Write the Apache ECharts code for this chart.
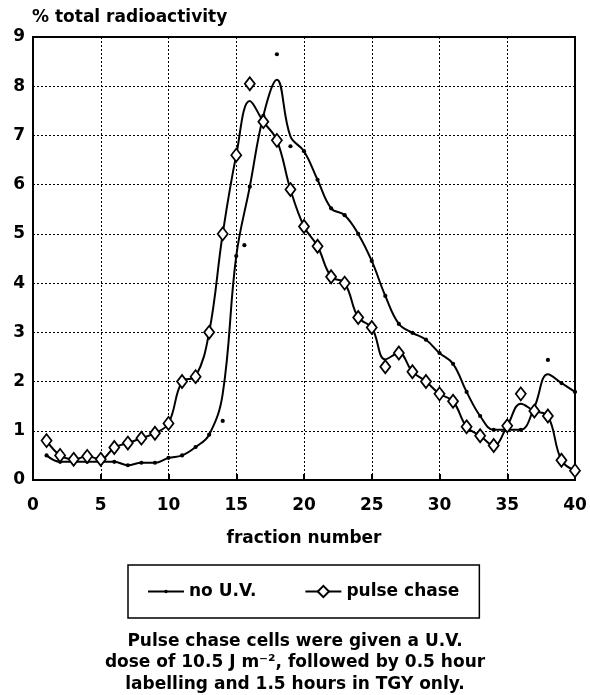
<!DOCTYPE html>
<html>
<head>
<meta charset="utf-8">
<script src="https://cdn.jsdelivr.net/npm/echarts@6/dist/echarts.min.js"></script>
<style>
  html, body { margin: 0; padding: 0; background: #fff; }
  #chart { width: 590px; height: 695px; }
</style>
</head>
<body>
<div id="chart"></div>
<script>
// fraction numbers on the x axis
const fractions = [1, 2, 3, 4, 5, 6, 7, 8, 9, 10, 11, 12, 13, 14, 15, 16, 17, 18, 19, 20,
  21, 22, 23, 24, 25, 26, 27, 28, 29, 30, 31, 32, 33, 34, 35, 36, 37, 38, 39, 40];

// fitted curve values (% total radioactivity)
const noUV = [0.5, 0.37, 0.37, 0.37, 0.37, 0.37, 0.3, 0.35, 0.35, 0.45, 0.5, 0.67, 0.92, 1.75, 4.55, 5.96, 7.4, 8.13, 6.98, 6.68,
  6.1, 5.52, 5.38, 5.0, 4.45, 3.74, 3.17, 2.99, 2.85, 2.58, 2.36, 1.79, 1.3, 1.02, 1.02, 1.02, 1.48, 2.15, 1.97, 1.79];
const pulseChase = [0.8, 0.5, 0.42, 0.48, 0.42, 0.66, 0.75, 0.85, 0.95, 1.15, 2.0, 2.1, 3.0, 5.0, 6.6, 7.7, 7.28, 6.9, 5.9, 5.15,
  4.75, 4.13, 4.0, 3.3, 3.1, 2.45, 2.58, 2.2, 2.0, 1.75, 1.6, 1.08, 0.9, 0.7, 1.1, 1.55, 1.4, 1.3, 0.4, 0.19];

// measured points that sit off the fitted curve
const noUVOff = [[14, 1.2], [15.6, 4.77], [18, 8.65], [19, 6.78], [38, 2.44]];
const pulseChaseOff = [[16, 8.05], [26, 2.3], [36, 1.75]];

const caption = [
  'Pulse chase cells were given a U.V.',
  'dose of 10.5 J m\u207B\u00B2, followed by 0.5 hour',
  'labelling and 1.5 hours in TGY only.'
];

const FONT = 'DejaVu Sans';
// small dot inside a larger empty box, so the legend keeps it small too
const DOT = 'path://M0,0L0,0M10,10L10,10M3.5,5A1.5,1.5,0,1,1,6.5,5A1.5,1.5,0,1,1,3.5,5Z';

function curveData(values, off) {
  const hidden = off.map(p => p[0]);
  return fractions.map((f, i) => {
    const item = {value: [f, values[i]]};
    if (hidden.indexOf(f) >= 0) item.symbol = 'none';
    return item;
  });
}

const chart = echarts.init(document.getElementById('chart'));

chart.setOption({
  animation: false,
  title: {
    text: '% total radioactivity',
    left: 32,
    top: 9,
    padding: 0,
    textStyle: {fontFamily: FONT, fontWeight: 'bold', fontSize: 17, color: '#000'}
  },
  grid: {
    left: 33, right: 15, top: 37, bottom: 215,
    show: true, borderColor: '#000', borderWidth: 2
  },
  legend: {
    left: 128,
    top: 565,
    padding: [18, 20, 18, 19],
    itemGap: 48,
    itemWidth: 36,
    itemHeight: 14,
    borderColor: '#000',
    borderWidth: 1.5,
    data: ['no U.V.', 'pulse chase'],
    textStyle: {fontFamily: FONT, fontWeight: 'bold', fontSize: 17, color: '#000'}
  },
  xAxis: {
    type: 'value',
    min: 0, max: 40, interval: 5,
    name: 'fraction number',
    nameLocation: 'middle',
    nameGap: 50,
    nameTextStyle: {fontFamily: FONT, fontWeight: 'bold', fontSize: 17, color: '#000'},
    axisLine: {lineStyle: {color: '#000', width: 2}},
    axisTick: {inside: true, length: 6, lineStyle: {color: '#000', width: 2}},
    axisLabel: {margin: 17, fontFamily: FONT, fontWeight: 'bold', fontSize: 17, color: '#000'},
    splitLine: {lineStyle: {color: '#000', type: [2, 2], width: 1}}
  },
  yAxis: {
    type: 'value',
    min: 0, max: 9, interval: 1,
    axisLine: {show: true, lineStyle: {color: '#000', width: 2}},
    axisTick: {show: false},
    axisLabel: {margin: 8, fontFamily: FONT, fontWeight: 'bold', fontSize: 17, color: '#000'},
    splitLine: {lineStyle: {color: '#000', type: [2, 2], width: 1}}
  },
  series: [
    {
      name: 'no U.V.',
      type: 'line',
      smooth: 0.4,
      data: curveData(noUV, noUVOff),
      symbol: DOT,
      symbolSize: 14,
      showAllSymbol: true,
      lineStyle: {color: '#000', width: 2},
      itemStyle: {color: '#000', borderWidth: 0},
      z: 3
    },
    {
      name: 'no U.V.',
      type: 'scatter',
      data: noUVOff,
      symbol: DOT,
      symbolSize: 14,
      itemStyle: {color: '#000', opacity: 1},
      z: 3
    },
    {
      name: 'pulse chase',
      type: 'line',
      smooth: 0.4,
      data: curveData(pulseChase, pulseChaseOff),
      symbol: 'diamond',
      symbolSize: [10, 13],
      showAllSymbol: true,
      lineStyle: {color: '#000', width: 2},
      itemStyle: {color: '#fff', borderColor: '#000', borderWidth: 1.8},
      z: 4
    },
    {
      name: 'pulse chase',
      type: 'scatter',
      data: pulseChaseOff,
      symbol: 'diamond',
      symbolSize: [10, 13],
      itemStyle: {color: '#fff', borderColor: '#000', borderWidth: 1.8, opacity: 1},
      z: 4
    }
  ],
  graphic: caption.map((line, i) => ({
    type: 'text',
    left: 'center',
    top: 633 + i * 21.5,
    style: {text: line, fontFamily: FONT, fontWeight: 'bold', fontSize: 17, fill: '#000'}
  }))
});
</script>
</body>
</html>
